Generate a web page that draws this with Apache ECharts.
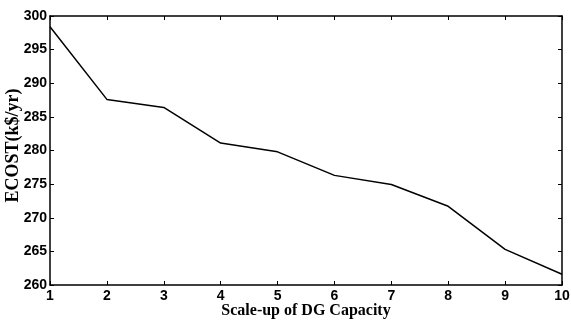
<!DOCTYPE html>
<html><head><meta charset="utf-8">
<script src="https://cdn.jsdelivr.net/npm/echarts@6/dist/echarts.min.js"></script>
<style>html,body{margin:0;padding:0;background:#fff}#c{width:571px;height:320px}</style>
</head><body><div id="c"></div>
<script>
var categories = [1,2,3,4,5,6,7,8,9,10];
var ecost = [298.4, 287.6, 286.4, 281.1, 279.8, 276.3, 274.95, 271.7, 265.3, 261.6];
var yTicks = [260,265,270,275,280,285,290,295,300];
var xTitle = 'Scale-up of DG Capacity';
var yTitle = 'ECOST(k$/yr)';

var chart = echarts.init(document.getElementById('c'), null, {renderer:'canvas'});
var lab = {color:'#000', fontFamily:'Liberation Sans, Arial, sans-serif', fontWeight:'bold', fontSize:14};
var axLine = {show:true, lineStyle:{color:'#000', width:1.5}};
var tick = {show:true, inside:true, length:4, lineStyle:{color:'#000', width:1}};
chart.setOption({
  animation:false,
  backgroundColor:'#fff',
  grid:{left:50, right:9, top:16, bottom:35, containLabel:false, outerBoundsMode:'none'},
  xAxis:[{
    type:'value', min:1, max:10, interval:1, position:'bottom',
    axisLine:axLine, axisTick:tick, splitLine:{show:false},
    axisLabel:Object.assign({margin:4}, lab),
    name:xTitle, nameLocation:'middle', nameGap:18, nameMoveOverlap:false,
    nameTextStyle:{color:'#000', fontFamily:'Liberation Serif, Times New Roman, serif', fontWeight:'bold', fontSize:16}
  },{
    type:'value', min:1, max:10, interval:1, position:'top',
    axisLine:axLine, axisTick:tick, axisLabel:{show:false}, splitLine:{show:false}
  }],
  yAxis:[{
    type:'value', min:260, max:300, interval:5, position:'left',
    axisLine:axLine, axisTick:tick, splitLine:{show:false},
    axisLabel:Object.assign({margin:3}, lab),
    name:yTitle, nameLocation:'middle', nameGap:28, nameRotate:90, nameMoveOverlap:false,
    nameTextStyle:{color:'#000', fontFamily:'Liberation Serif, Times New Roman, serif', fontWeight:'bold', fontSize:18, padding:[0,0,0,10]}
  },{
    type:'value', min:260, max:300, interval:5, position:'right',
    axisLine:axLine, axisTick:tick, axisLabel:{show:false}, splitLine:{show:false}
  }],
  series:[{
    type:'line', xAxisIndex:0, yAxisIndex:0,
    data:categories.map(function(c,i){return [c, ecost[i]];}),
    showSymbol:false, symbol:'none',
    lineStyle:{color:'#000', width:1.5}
  }]
});
</script></body></html>
